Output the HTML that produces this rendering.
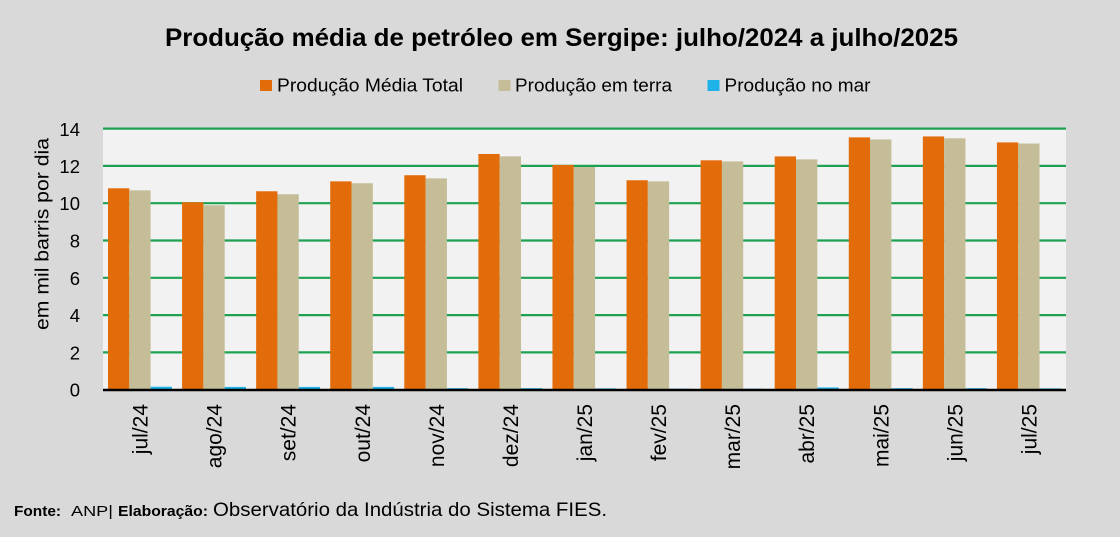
<!DOCTYPE html>
<html>
<head>
<meta charset="utf-8">
<style>
html,body{margin:0;padding:0;background:#d9d9d9;}
svg{display:block;}
text{font-family:"Liberation Sans",sans-serif;fill:#000;}
</style>
</head>
<body>
<svg width="1120" height="537" viewBox="0 0 1120 537" xmlns="http://www.w3.org/2000/svg">
<rect x="0" y="0" width="1120" height="537" fill="#d9d9d9"/>
<!-- Title -->
<text x="165" y="46" font-size="25" font-weight="bold" textLength="793" lengthAdjust="spacingAndGlyphs">Produção média de petróleo em Sergipe: julho/2024 a julho/2025</text>
<!-- Legend -->
<rect x="260" y="80" width="12" height="11" fill="#e36c0a"/>
<text x="277" y="91.5" font-size="18" textLength="186" lengthAdjust="spacingAndGlyphs">Produção Média Total</text>
<rect x="498.5" y="80" width="12" height="11" fill="#c4bd97"/>
<text x="515" y="91.5" font-size="18" textLength="157" lengthAdjust="spacingAndGlyphs">Produção em terra</text>
<rect x="707.5" y="80" width="12" height="11" fill="#1fb2e8"/>
<text x="724.5" y="91.5" font-size="18" textLength="146" lengthAdjust="spacingAndGlyphs">Produção no mar</text>
<!-- Plot area -->
<rect x="103" y="128.6" width="963" height="261" fill="#f2f2f2"/>
<g stroke="#1fa152" stroke-width="2.2">
<line x1="103" x2="1066" y1="128.6" y2="128.6"/>
<line x1="103" x2="1066" y1="165.9" y2="165.9"/>
<line x1="103" x2="1066" y1="203.2" y2="203.2"/>
<line x1="103" x2="1066" y1="240.5" y2="240.5"/>
<line x1="103" x2="1066" y1="277.8" y2="277.8"/>
<line x1="103" x2="1066" y1="315.1" y2="315.1"/>
<line x1="103" x2="1066" y1="352.4" y2="352.4"/>
</g>
<!-- Y tick labels -->
<g font-size="18.5" text-anchor="end">
<text x="80" y="136">14</text>
<text x="80" y="173">12</text>
<text x="80" y="210">10</text>
<text x="80" y="247.5">8</text>
<text x="80" y="284.8">6</text>
<text x="80" y="322">4</text>
<text x="80" y="359.4">2</text>
<text x="80" y="396.7">0</text>
</g>
<!-- Y axis title -->
<text transform="translate(48.5,234) rotate(-90)" font-size="19" text-anchor="middle" textLength="192" lengthAdjust="spacingAndGlyphs">em mil barris por dia</text>
<!-- Bars -->
<g id="bars"></g>
<script>
(function(){
var tot=[10.8,10.05,10.64,11.17,11.5,12.64,12.05,11.23,12.3,12.51,13.53,13.58,13.26];
var ter=[10.69,9.89,10.48,11.07,11.33,12.51,11.94,11.17,12.24,12.35,13.42,13.48,13.2];
var mar=[0.16,0.15,0.15,0.15,0.08,0.08,0.07,0.05,0.05,0.12,0.08,0.08,0.07];
var labels=["jul/24","ago/24","set/24","out/24","nov/24","dez/24","jan/25","fev/25","mar/25","abr/25","mai/25","jun/25","jul/25"];
var y0=389.7,u=18.65,x0=103,cw=963/13,bw=21.3,off=5;
var ns="http://www.w3.org/2000/svg";
var g=document.getElementById("bars");
function r(x,v,c){var e=document.createElementNS(ns,"rect");e.setAttribute("x",x);e.setAttribute("y",y0-v*u);e.setAttribute("width",bw);e.setAttribute("height",v*u);e.setAttribute("fill",c);g.appendChild(e);}
for(var i=0;i<13;i++){
 var s=x0+i*cw+off;
 r(s,tot[i],"#e36c0a");
 r(s+bw,ter[i],"#c4bd97");
 r(s+2*bw,mar[i],"#1fb2e8");
 var t=document.createElementNS(ns,"text");
 var cx=x0+(i+0.5)*cw+7.5;
 t.setAttribute("transform","translate("+cx+",404) rotate(-90)");
 t.setAttribute("font-size","21");
 t.setAttribute("text-anchor","end");
 t.textContent=labels[i];
 g.appendChild(t);
}
})();
</script>
<!-- Axis line -->
<line x1="103" x2="1066" y1="390" y2="390" stroke="#000" stroke-width="2.6"/>
<!-- Footer -->
<text x="14" y="516" font-size="14.5" font-weight="bold" textLength="47" lengthAdjust="spacingAndGlyphs">Fonte:</text>
<text x="71" y="516" font-size="15" textLength="42" lengthAdjust="spacingAndGlyphs">ANP|</text>
<text x="118" y="516" font-size="15" font-weight="bold" textLength="90" lengthAdjust="spacingAndGlyphs">Elaboração:</text>
<text x="213" y="516" font-size="19.5" textLength="394" lengthAdjust="spacingAndGlyphs">Observatório da Indústria do Sistema FIES.</text>
</svg>
</body>
</html>
